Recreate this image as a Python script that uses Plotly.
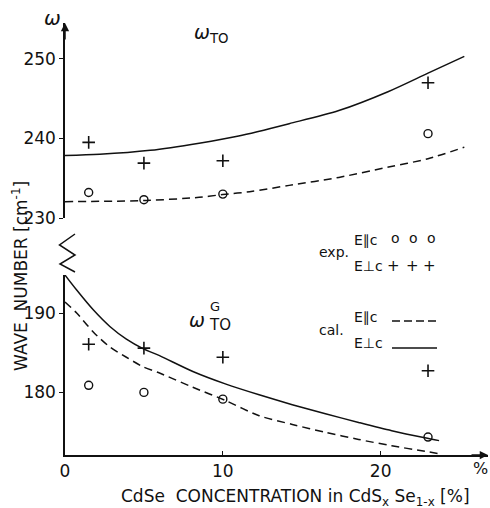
import plotly.graph_objects as go

# ---------------- data ----------------
# experimental CdSe concentrations (%)
conc_exp = [1.5, 5, 10, 23]

# omega_TO branch (cm^-1)
wto_par_exp = [233.2, 232.3, 233.0, 240.6]    # E || c  (circles)
wto_perp_exp = [239.5, 236.9, 237.2, 247.0]   # E _|_ c (crosses)

# omega_TO^G gap mode (cm^-1)
wg_par_exp = [180.85, 179.95, 179.1, 174.3]
wg_perp_exp = [186.05, 185.55, 184.4, 182.7]

# calculated curves, omega_TO
conc_calc_to = [0, 2.2, 5.4, 8.5, 11.0, 14.2, 17.35, 20.5, 23.0, 25.3]
wto_perp_calc = [237.85, 238.0, 238.5, 239.4, 240.3, 241.85, 243.5, 245.9, 248.2, 250.3]
conc_calc_to_par = [0, 5.15, 8.5, 10.0, 11.7, 14.2, 17.35, 20.5, 23.0, 25.3]
wto_par_calc = [232.05, 232.2, 232.6, 232.95, 233.3, 234.1, 235.1, 236.4, 237.45, 238.9]

# calculated curves, omega_TO^G
conc_calc_g = [0, 0.74, 1.79, 2.84, 3.89, 4.94, 5.99, 8.1, 10.2, 12.3, 14.4, 16.5, 18.6, 20.7, 22.8, 23.7]
wg_perp_calc = [194.8, 192.9, 190.4, 188.3, 186.7, 185.5, 184.6, 182.6, 181.0, 179.65,
                178.4, 177.25, 176.15, 175.1, 174.2, 173.85]
wg_par_calc = [191.4, 190.0, 187.6, 185.7, 184.4, 183.2, 182.4, 180.6, 178.9, 177.0,
               175.9, 174.9, 174.0, 173.2, 172.5, 172.2]

x_ticks = [0, 10, 20]
y_ticks_upper = [230, 240, 250]
y_ticks_lower = [180, 190]

# ---------------- geometry ----------------
W, H = 490, 508
L, R, T, B = 65, 2, 23, 53
PW, PH = W - L - R, H - T - B
BASE = H - B


def px(x):
    return (x - L) / PW


def py(y):
    return (BASE - y) / PH


INK = "#111111"
FONT = "DejaVu Sans"

fig = go.Figure()

line_solid = dict(color=INK, width=1.5, shape="spline", smoothing=0.8)
line_dash = dict(color=INK, width=1.5, shape="spline", smoothing=0.8, dash="8px,5px")
m_circle = dict(symbol="circle-open", size=8, color=INK, line=dict(width=1.4, color=INK))
m_cross = dict(symbol="cross-thin", size=9, color=INK, line=dict(width=1.6, color=INK))

# upper panel (omega_TO)
fig.add_trace(go.Scatter(x=conc_calc_to, y=wto_perp_calc, mode="lines", line=line_solid,
                         xaxis="x", yaxis="y2"))
fig.add_trace(go.Scatter(x=conc_calc_to_par, y=wto_par_calc, mode="lines", line=line_dash,
                         xaxis="x", yaxis="y2"))
fig.add_trace(go.Scatter(x=conc_exp, y=wto_par_exp, mode="markers", marker=m_circle,
                         xaxis="x", yaxis="y2"))
fig.add_trace(go.Scatter(x=conc_exp, y=wto_perp_exp, mode="markers", marker=m_cross,
                         xaxis="x", yaxis="y2"))

# lower panel (omega_TO^G)
fig.add_trace(go.Scatter(x=conc_calc_g, y=wg_perp_calc, mode="lines", line=line_solid,
                         xaxis="x", yaxis="y"))
fig.add_trace(go.Scatter(x=conc_calc_g, y=wg_par_calc, mode="lines", line=line_dash,
                         xaxis="x", yaxis="y"))
fig.add_trace(go.Scatter(x=conc_exp, y=wg_par_exp, mode="markers", marker=m_circle,
                         xaxis="x", yaxis="y"))
fig.add_trace(go.Scatter(x=conc_exp, y=wg_perp_exp, mode="markers", marker=m_cross,
                         xaxis="x", yaxis="y"))

axis_common = dict(showline=True, linecolor=INK, linewidth=1.5, showgrid=False,
                   zeroline=False, tickcolor=INK, tickwidth=1.3,
                   tickfont=dict(family=FONT, size=17, color=INK))

fig.update_layout(
    width=W, height=H,
    margin=dict(l=L, r=R, t=T, b=B, pad=0),
    paper_bgcolor="white", plot_bgcolor="white",
    showlegend=False,
    xaxis=dict(domain=[0, 1], range=[0, 26.8], anchor="y", tickvals=x_ticks,
               ticks="inside", ticklen=4, **axis_common),
    yaxis=dict(domain=[0, py(275)], range=[172.03, 194.81], anchor="x",
               tickvals=y_ticks_lower, ticks="outside", ticklen=4, **axis_common),
    yaxis2=dict(domain=[py(218), 1], range=[230, 254.5], anchor="x",
                tickvals=y_ticks_upper, ticks="outside", ticklen=4, **axis_common),
)

ann = []


def text(x, y, s, size=15, xanchor="center", yanchor="middle", angle=0):
    ann.append(dict(x=px(x), y=py(y), xref="paper", yref="paper", text=s, showarrow=False,
                    xanchor=xanchor, yanchor=yanchor, textangle=angle,
                    font=dict(family=FONT, size=size, color=INK)))


# axis arrows
ann.append(dict(x=1, y=0, xref="x domain", yref="y domain", ax=-18, ay=0, text="",
                showarrow=True, arrowhead=2, arrowsize=1.1, arrowwidth=1.5, arrowcolor=INK))
ann.append(dict(x=0, y=1, xref="x domain", yref="y2 domain", ax=0, ay=18, text="",
                showarrow=True, arrowhead=2, arrowsize=1.1, arrowwidth=1.5, arrowcolor=INK))

# axis titles
text(20, 276, "WAVE  NUMBER [cm<sup>-1</sup>]", size=17, angle=-90)
text(295, 497, "CdSe  CONCENTRATION in CdS<sub>x</sub> Se<sub>1-x</sub> [%]", size=17)
text(490, 468, "%", size=16, xanchor="right")

# panel labels
text(52, 18, "<i>ω</i>", size=20)
text(192, 33, "<i>ω</i><sub>TO</sub>", size=19, xanchor="left")
text(197, 320, "<i>ω</i>", size=19)
text(215, 306, "G", size=13)
text(220, 325, "TO", size=15)

# key
text(334, 252, "exp.", size=14)
text(352, 240, "E∥c", size=14, xanchor="left")
text(352, 266, "E⊥c", size=14, xanchor="left")
for xk in (395, 413, 431):
    text(xk, 238, "o", size=14)
for xk in (393, 412, 429):
    text(xk, 266, "+", size=15)
text(331, 330, "cal.", size=14)
text(352, 317, "E∥c", size=14, xanchor="left")
text(352, 343, "E⊥c", size=14, xanchor="left")

fig.update_layout(annotations=ann)

shapes = [
    # key samples
    dict(type="line", xref="paper", yref="paper", x0=px(392), x1=px(437), y0=py(321), y1=py(321),
         line=dict(color=INK, width=1.4, dash="8px,4px")),
    dict(type="line", xref="paper", yref="paper", x0=px(392), x1=px(437), y0=py(348), y1=py(348),
         line=dict(color=INK, width=1.4)),
]
# axis break zigzag
zz = [(75, 234), (59.5, 245), (75, 255), (60, 264), (75, 272)]
path = "M " + " L ".join(f"{px(a):.5f},{py(b):.5f}" for a, b in zz)
shapes.append(dict(type="path", xref="paper", yref="paper", path=path,
                   line=dict(color=INK, width=1.5)))
fig.update_layout(shapes=shapes)

fig.write_html("out.html")
